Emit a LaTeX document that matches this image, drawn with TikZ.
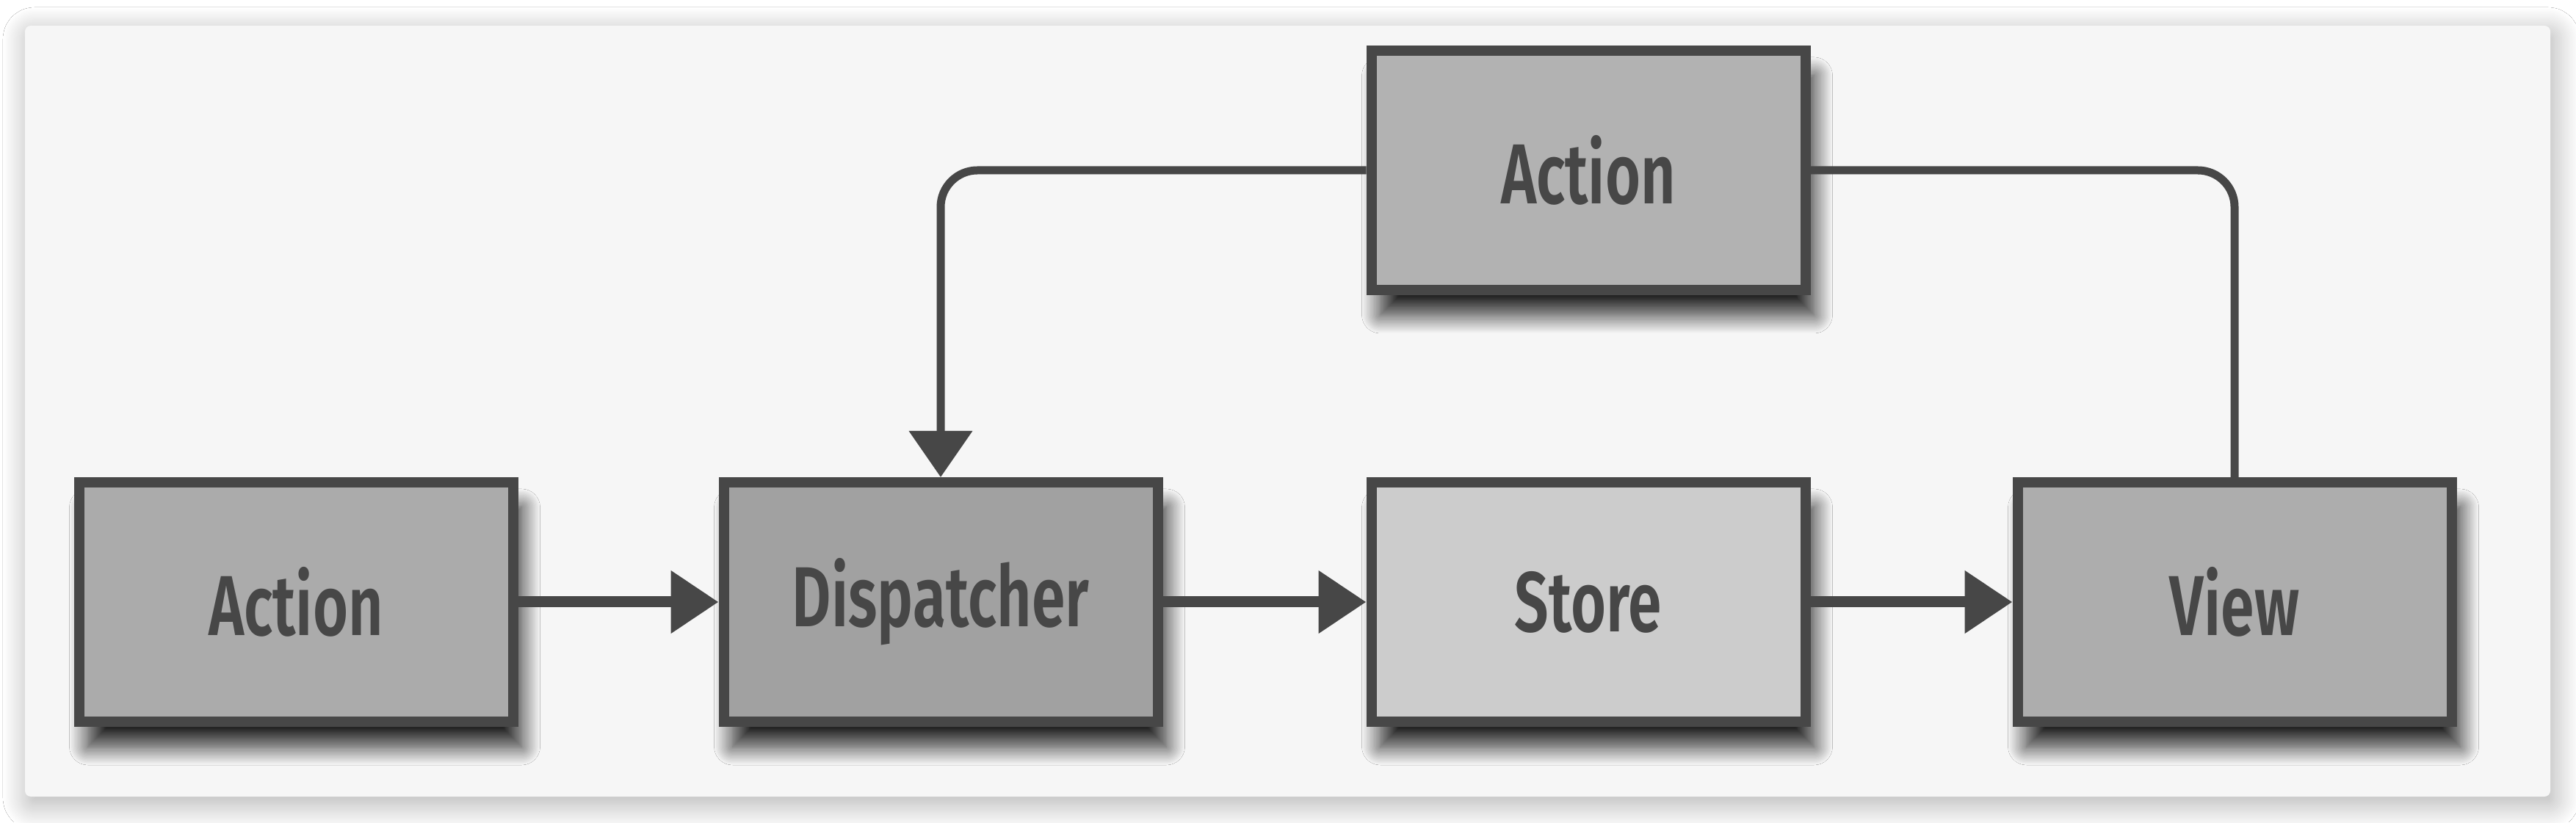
\documentclass[tikz,border=0pt]{standalone}
\usepackage{fontspec}
\setmainfont{Fira Sans}[BoldFont={Fira Sans SemiBold}]
\usepackage{xcolor}
\usepackage{tikz}
\usetikzlibrary{arrows.meta,shadows.blur}

\definecolor{ink}{HTML}{474747}
\definecolor{card}{HTML}{F6F6F6}
\newcommand\narrow[1]{\scalebox{0.71}[1]{#1}}

\begin{document}
\begin{tikzpicture}[
  box/.style={draw=ink, line width=0.14cm, minimum width=5.91cm, minimum height=3.26cm,
    text=ink, font=\fontsize{33}{34}\selectfont\bfseries,
    blur shadow={shadow xshift=0.12cm, shadow yshift=-0.34cm, shadow blur radius=0.25cm,
      shadow blur steps=20, shadow opacity=85}},
  flow/.style={ink, line width=0.15cm, -{Triangle[length=0.65cm, width=0.82cm]}},
  link/.style={ink, line width=0.11cm, rounded corners=0.5cm}
]
\useasboundingbox (0,0) rectangle (35.08,11.2);
\fill[white] (0,0) rectangle (35.08,11.2);
\fill[card, rounded corners=0.08cm,
  blur shadow={shadow xshift=0.05cm, shadow yshift=-0.1cm, shadow blur radius=0.35cm,
    shadow blur steps=20, shadow opacity=32}]
  (0.34,0.35) rectangle (34.73,10.85);

\node[box, fill=black!33] (action) at (4.03,3.0) {\narrow{Action}};
\node[box, fill=black!37] (dispatcher) at (12.81,3.0) {\narrow{Dispatcher}};
\node[box, fill=black!20] (store) at (21.63,3.0) {\narrow{Store}};
\node[box, fill=black!32] (view) at (30.43,3.0) {\narrow{View}};
\node[box, fill=black!30] (newaction) at (21.63,8.88) {\narrow{Action}};

\draw[flow] (action) -- (dispatcher);
\draw[flow] (dispatcher) -- (store);
\draw[flow] (store) -- (view);

\draw[link, -{Triangle[length=0.63cm, width=0.84cm]}] (newaction.west) -| (dispatcher.north);
\draw[link] (newaction.east) -| (view.north);
\end{tikzpicture}
\end{document}
